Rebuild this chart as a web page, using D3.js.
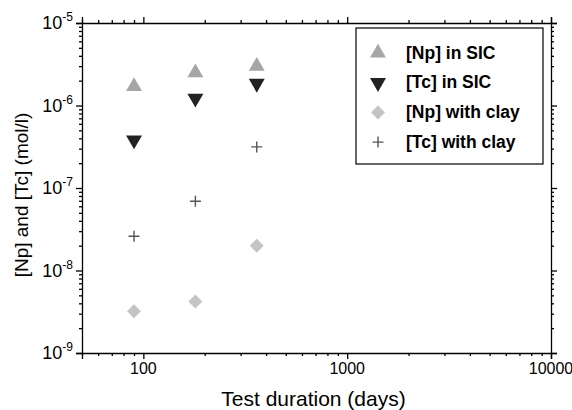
<!DOCTYPE html>
<html lang="en">
<head>
    <meta charset="UTF-8">
    <title>Np Tc</title>
    <script type='text/javascript' src='https://d3js.org/d3.v7.min.js'></script>
    <style>
        body { margin: 0; background: #fff; }
        text { font-family: Arial, "Liberation Sans", sans-serif; }
    </style>
</head>
<body>
    <script>
        // data
        const days = [90, 180, 360];
        const npSic = [1.7e-6, 2.5e-6, 3.0e-6];
        const tcSic = [3.8e-7, 1.22e-6, 1.85e-6];
        const npClay = [3.2e-9, 4.2e-9, 2.0e-8];
        const tcClay = [2.6e-8, 6.9e-8, 3.15e-7];
        const seriesNames = ["[Np] in SIC", "[Tc] in SIC", "[Np] with clay", "[Tc] with clay"];
        const xTicks = [100, 1000, 10000];
        const yExponents = [-9, -8, -7, -6, -5];

        // set the dimensions and margins of the graph
        const margin = { top: 23, right: 21, bottom: 57, left: 82 };
        const width = 572 - margin.left - margin.right;
        const height = 410 - margin.top - margin.bottom;

        var svg = d3.select('body').append("svg")
            .attr("width", 572).attr("height", 410)
            .append("g")
            .attr("transform", "translate(" + margin.left + "," + margin.top + ")");

        var x = d3.scaleLog().domain([50, 10000]).range([0, width]);
        var y = d3.scaleLog().domain([1e-9, 1e-5]).range([height, 0]);

        // minor tick values
        var xMinor = [];
        [10, 100, 1000].forEach(function (d) {
            for (var k = 2; k <= 9; k++) {
                var v = d * k;
                if (v >= 50 && v < 10000 && xTicks.indexOf(v) < 0) xMinor.push(v);
            }
        });
        var yMinor = [];
        [-9, -8, -7, -6].forEach(function (e) {
            for (var k = 2; k <= 9; k++) yMinor.push(k * Math.pow(10, e));
        });

        function axisPair(axisFn, scale, major, minor, tr) {
            var g = svg.append("g").attr("transform", tr);
            g.call(axisFn(scale).tickValues(major).tickSize(6).tickFormat(""));
            g.append("g").call(axisFn(scale).tickValues(minor).tickSize(3).tickFormat(""))
                .select(".domain").remove();
            g.selectAll("path, line").attr("stroke", "#000").attr("stroke-width", 1.3);
            return g;
        }

        var yMajor = yExponents.map(function (e) { return Math.pow(10, e); });
        axisPair(d3.axisBottom, x, xTicks, xMinor, "translate(0," + height + ")");
        axisPair(d3.axisTop, x, xTicks, xMinor, "translate(0,0)");
        axisPair(d3.axisLeft, y, yMajor, yMinor, "translate(0,0)");
        axisPair(d3.axisRight, y, yMajor, yMinor, "translate(" + width + ",0)");

        // x tick labels
        svg.selectAll(".xl").data(xTicks).enter().append("text")
            .attr("x", function (d) { return x(d); })
            .attr("y", height + 21)
            .attr("text-anchor", "middle")
            .attr("font-size", 16)
            .text(function (d) { return d; });

        // y tick labels with superscript
        var yl = svg.selectAll(".yl").data(yExponents).enter().append("text")
            .attr("x", -9)
            .attr("y", function (d) { return y(Math.pow(10, d)) + 6; })
            .attr("text-anchor", "end")
            .attr("font-size", 18);
        yl.append("tspan").text("10");
        yl.append("tspan").attr("font-size", 12).attr("dy", -8).text(function (d) { return "-" + Math.abs(d); });

        // axis titles
        svg.append("text")
            .attr("x", width / 2 - 3).attr("y", height + 53)
            .attr("text-anchor", "middle").attr("font-size", 21)
            .text("Test duration (days)");
        svg.append("text")
            .attr("transform", "translate(" + (-54) + "," + (height / 2 + 7) + ") rotate(-90)")
            .attr("text-anchor", "middle").attr("font-size", 19)
            .text("[Np] and [Tc] (mol/l)");

        // symbols
        const styles = [
            { type: d3.symbolTriangle, size: 110, fill: "#a6a6a6", rot: 0 },
            { type: d3.symbolTriangle, size: 110, fill: "#222222", rot: 180 },
            { type: d3.symbolSquare, size: 98, fill: "#c4c4c4", rot: 45 },
            { type: "plus", size: 11, fill: "#555555", rot: 0 }
        ];
        const allSeries = [npSic, tcSic, npClay, tcClay];

        function drawSymbol(g, st) {
            if (st.type === "plus") {
                g.append("path").attr("d", "M-5.5,0H5.5M0,-5.5V5.5")
                    .attr("stroke", st.fill).attr("stroke-width", 1.4).attr("fill", "none");
            } else {
                g.append("path")
                    .attr("d", d3.symbol().type(st.type).size(st.size)())
                    .attr("transform", "rotate(" + st.rot + ")")
                    .attr("fill", st.fill);
            }
        }

        allSeries.forEach(function (vals, i) {
            vals.forEach(function (v, j) {
                var g = svg.append("g")
                    .attr("transform", "translate(" + x(days[j]) + "," + y(v) + ")");
                drawSymbol(g, styles[i]);
            });
        });

        // legend
        var lg = svg.append("g").attr("transform", "translate(" + (356 - margin.left) + "," + (28 - margin.top) + ")");
        lg.append("rect").attr("width", 187).attr("height", 136)
            .attr("fill", "#fff").attr("stroke", "#000").attr("stroke-width", 1.2);
        seriesNames.forEach(function (name, i) {
            var rowY = 25 + i * 29.7;
            var g = lg.append("g").attr("transform", "translate(22," + rowY + ")");
            drawSymbol(g, styles[i]);
            lg.append("text").attr("x", 50).attr("y", rowY + 5.5)
                .attr("font-size", 17.5).attr("font-weight", "bold")
                .text(name);
        });
    </script>
</body>
</html>
